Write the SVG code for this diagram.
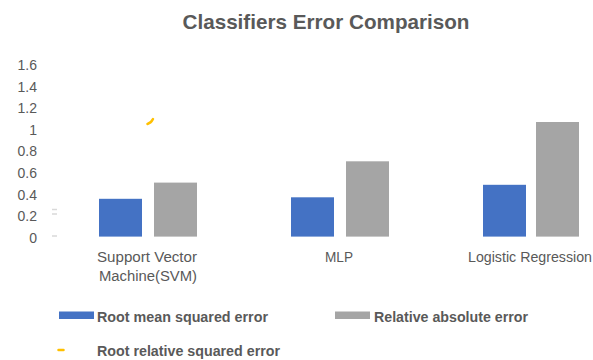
<svg xmlns="http://www.w3.org/2000/svg" width="593" height="360" viewBox="0 0 593 360">
<style>
text{font-family:"Liberation Sans",Arial,sans-serif;fill:#595959}
.ax{font-size:14px;text-anchor:end}
.cat{font-size:14px;text-anchor:middle}
.lg{font-size:14px;font-weight:bold}
.b{fill:#4472C4}
.g{fill:#A5A5A5}
.tk{stroke:#D9D9D9;stroke-width:1.5}
</style>
<rect width="593" height="360" fill="#fff"/>
<text x="326" y="29" text-anchor="middle" font-size="20.5" font-weight="bold" textLength="287" lengthAdjust="spacingAndGlyphs">Classifiers Error Comparison</text>
<g id="axis">
<text class="ax" x="37" y="70">1.6</text>
<text class="ax" x="37" y="91.6">1.4</text>
<text class="ax" x="37" y="113.2">1.2</text>
<text class="ax" x="37" y="134.8">1</text>
<text class="ax" x="37" y="156.4">0.8</text>
<text class="ax" x="37" y="178">0.6</text>
<text class="ax" x="37" y="199.6">0.4</text>
<text class="ax" x="37" y="221.2">0.2</text>
<text class="ax" x="37" y="242.8">0</text>
<line class="tk" x1="52" y1="209.5" x2="57" y2="209.5"/>
<line class="tk" x1="52" y1="214" x2="57" y2="214"/>
<line class="tk" x1="52" y1="236" x2="57" y2="236"/>
</g>
<g id="svm">
<rect class="b" x="99" y="198.8" width="43" height="37.8"/>
<rect class="g" x="154" y="182.6" width="43" height="54"/>
<path d="M147.5,124 Q151,123 153,119" fill="none" stroke="#FFC000" stroke-width="2.5" stroke-linecap="round"/>
<text class="cat" x="147" y="262" textLength="100" lengthAdjust="spacingAndGlyphs">Support Vector</text>
<text class="cat" x="148" y="281" textLength="98" lengthAdjust="spacingAndGlyphs">Machine(SVM)</text>
</g>
<g id="mlp">
<rect class="b" x="291" y="197.3" width="43" height="39.3"/>
<rect class="g" x="346" y="161.3" width="43" height="75.3"/>
<text class="cat" x="339" y="262" textLength="28" lengthAdjust="spacingAndGlyphs">MLP</text>
</g>
<g id="lr">
<rect class="b" x="483" y="184.8" width="43" height="51.8"/>
<rect class="g" x="536" y="122" width="43" height="114.6"/>
<text class="cat" x="530" y="262" textLength="124" lengthAdjust="spacingAndGlyphs">Logistic Regression</text>
</g>
<g id="legend">
<rect class="b" x="59" y="311.5" width="35" height="7.5"/>
<text class="lg" x="97" y="322" textLength="171" lengthAdjust="spacingAndGlyphs">Root mean squared error</text>
<rect class="g" x="335" y="311.5" width="35" height="7.5"/>
<text class="lg" x="374" y="322" textLength="154" lengthAdjust="spacingAndGlyphs">Relative absolute error</text>
<line x1="58.5" y1="350" x2="63.5" y2="350" stroke="#FFC000" stroke-width="2.5" stroke-linecap="round"/>
<text class="lg" x="97" y="356" textLength="183" lengthAdjust="spacingAndGlyphs">Root relative squared error</text>
</g>
</svg>
